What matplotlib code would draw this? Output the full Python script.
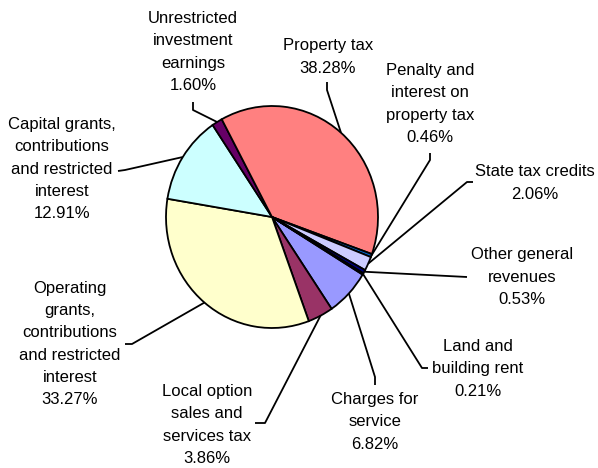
import numpy as np
import matplotlib.pyplot as plt

plt.rcParams['font.family'] = ['Liberation Sans', 'DejaVu Sans']

# slices in clockwise order, first slice starts at lower right
categories = [
    "Charges for\nservice",
    "Local option\nsales and\nservices tax",
    "Operating\ngrants,\ncontributions\nand restricted\ninterest",
    "Capital grants,\ncontributions\nand restricted\ninterest",
    "Unrestricted\ninvestment\nearnings",
    "Property tax",
    "Penalty and\ninterest on\nproperty tax",
    "State tax credits",
    "Other general\nrevenues",
    "Land and\nbuilding rent",
]
shares = [6.82, 3.86, 33.27, 12.91, 1.60, 38.28, 0.46, 2.06, 0.53, 0.21]
colors = ['#9999FF', '#993366', '#FFFFCC', '#CCFFFF', '#660066',
          '#FF8080', '#0066CC', '#CCCCFF', '#000080', '#FF00FF']

# label layout in image pixels: text centre, leader elbow, leader end
label_pos = [(375, 422), (207, 425), (70, 344), (62, 169), (193, 52),
             (328, 57), (430, 104), (535, 183), (522, 277), (478, 369)]
elbows = [(375, 377), (265, 423), (132, 344), (125, 170), (193, 110),
          (327, 90), (430, 160), (467, 182), (467, 277), (422, 368)]
ends = [(375, 385), (255, 423), (125, 344), (118, 171), (193, 102),
        (327, 82), (430, 153), (473, 182), (467, 277), (428, 368)]

W, H = 598, 468
fig = plt.figure(figsize=(W / 100, H / 100), dpi=100)

cx, cy, rx, ry = 272, 217, 106, 111
pad = 1.1
pie_ax = fig.add_axes([(cx - rx * pad) / W, 1 - (cy + ry * pad) / H,
                       2 * rx * pad / W, 2 * ry * pad / H])
wedges, _ = pie_ax.pie(shares, colors=colors, startangle=-31.25, counterclock=False,
                       wedgeprops=dict(edgecolor='black', linewidth=1.3))
pie_ax.set_aspect('auto')
pie_ax.set_xlim(-pad, pad)
pie_ax.set_ylim(-pad, pad)
pie_ax.axis('off')

ov = fig.add_axes([0, 0, 1, 1])
ov.set_xlim(0, W)
ov.set_ylim(H, 0)
ov.axis('off')

for w, lab, share, (tx, ty), (ex, ey), (fx, fy) in zip(wedges, categories, shares,
                                                        label_pos, elbows, ends):
    mid = np.deg2rad((w.theta1 + w.theta2) / 2)
    sx, sy = pie_ax.transData.transform((np.cos(mid), np.sin(mid)))
    sy = H - sy
    ov.plot([sx, ex, fx], [sy, ey, fy], color='black', linewidth=1.3,
            solid_capstyle='butt')
    ov.text(tx, ty, f"{lab}\n{share:.2f}%", ha='center', va='center',
            multialignment='center', fontsize=12, linespacing=1.6)

fig.savefig('out.png', dpi=100)
